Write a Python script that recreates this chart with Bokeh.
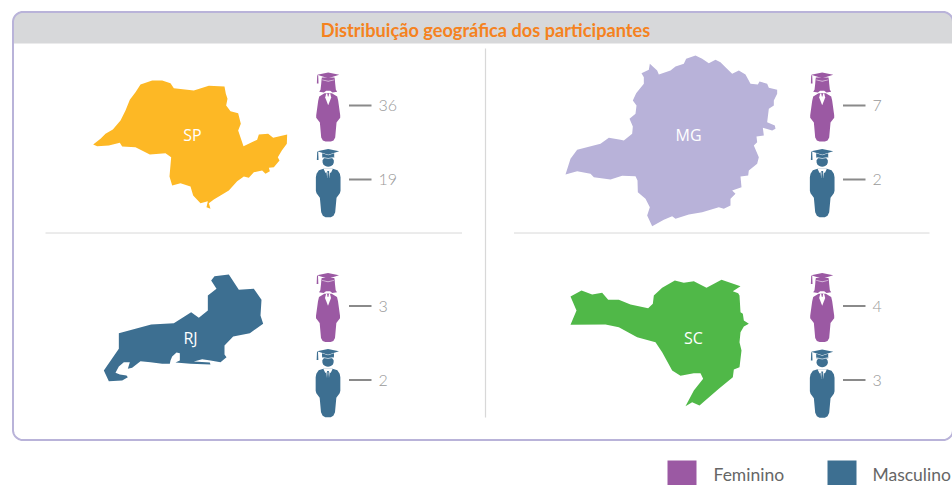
import math
from bokeh.plotting import figure
from bokeh.models import Range1d
from bokeh.embed import file_html
from bokeh.resources import INLINE
from bokeh.core.properties import value

TITLE = "Distribuição geográfica dos participantes"
STATES = ["SP", "RJ", "MG", "SC"]
FEMALE = [36, 3, 7, 4]
MALE = [19, 2, 2, 3]
LEGEND = ["Feminino", "Masculino"]

SP_SHAPE = [(38,282),(60,265),(75,250),(97,237),(120,210),(135,180),(148,148),(165,125),(180,102),(215,90),(245,90),(270,98),(280,113),(340,120),(385,106),(432,108),(436,130),(441,145),(437,165),(450,182),(473,188),(481,220),(473,240),(489,287),(530,268),(535,252),(563,250),(578,262),(620,252),(619,280),(604,300),(592,320),(597,330),(580,350),(565,352),(568,362),(555,370),(545,360),(520,365),(505,382),(490,378),(470,392),(445,420),(425,432),(400,447),(385,458),(390,475),(378,470),(382,452),(360,458),(338,435),(330,408),(300,398),(275,405),(267,378),(272,320),(255,308),(208,312),(165,290),(125,288),(118,277),(85,285),(50,287)]
RJ_SHAPE = [(40,330),(85,265),(85,218),(182,192),(250,188),(302,155),(325,172),(352,150),(352,105),(378,85),(362,60),(372,47),(415,42),(445,88),(490,85),(513,118),(510,165),(518,190),(478,218),(428,228),(402,255),(402,282),(408,290),(390,305),(360,300),(335,296),(310,303),(358,306),(360,312),(300,310),(255,306),(268,300),(268,278),(258,276),(245,288),(240,300),(238,310),(215,310),(180,305),(150,302),(125,322),(112,325),(118,305),(100,305),(85,318),(75,337),(88,342),(108,345),(112,350),(95,360),(55,362)]
MG_SHAPE = [(30,372),(45,325),(65,298),(135,280),(160,262),(195,268),(205,270),(230,250),(232,228),(222,205),(240,190),(243,165),(232,150),(242,128),(265,100),(265,80),(258,68),(280,58),(283,40),(305,60),(310,72),(345,60),(360,48),(385,40),(392,25),(420,15),(440,25),(460,38),(480,28),(495,35),(510,50),(530,70),(550,60),(570,72),(585,100),(607,102),(612,93),(635,100),(640,112),(665,118),(665,130),(655,150),(655,165),(640,175),(635,215),(658,225),(660,235),(650,240),(622,232),(625,255),(603,258),(605,275),(595,285),(610,320),(605,340),(580,360),(578,375),(555,378),(558,410),(530,420),(540,430),(525,445),(525,465),(505,475),(490,470),(440,485),(400,492),(360,505),(350,497),(325,508),(290,527),(275,495),(283,470),(270,445),(247,425),(246,390),(240,377),(200,376),(165,387),(115,380),(105,370),(65,362)]
SC_SHAPE = [(45,78),(78,60),(110,72),(140,67),(158,88),(190,88),(225,102),(278,113),(292,100),(295,75),(320,52),(358,30),(385,37),(415,32),(453,52),(498,28),(555,47),(532,62),(548,68),(552,75),(555,125),(562,130),(565,150),(580,160),(565,168),(555,185),(552,215),(558,240),(552,290),(535,297),(532,320),(490,355),(432,405),(410,395),(390,407),(415,360),(443,325),(435,308),(415,308),(375,316),(350,300),(320,245),(300,215),(245,200),(190,170),(150,162),(45,163),(63,120)]

SHAPES = [SP_SHAPE, RJ_SHAPE, MG_SHAPE, SC_SHAPE]
ORIGINS = [(80, 50), (90, 260), (555, 50), (555, 270)]
STATE_COLORS = ["#FDB825", "#3D6F91", "#B8B2D9", "#50B848"]
LABEL_POS = [(192, 134), (190, 337), (688, 134), (693, 337)]
ICON_X = [327.7, 327.5, 821.7, 821.7]
ICON_TOP = [(72, 148.5), (272.5, 348.5), (72, 148.5), (272.5, 349)]
LINE_LEFT = [348.5, 348.5, 842.5, 842.5]
ROW_Y = [(105, 179), (305.5, 379.5), (105, 179), (305.5, 379.5)]

PURPLE = "#9B59A3"
BLUE = "#3D6F91"
BORDER = "#B9B3D9"
HEADER = "#D7D8DA"
GRID = "#D8D8D8"
NUM = "#999999"
FONT = "Open Sans"

CAP = [(-33,7),(0,0),(33,7),(0,17)]
TASSEL = [(-33,8),(-30,8),(-29,33),(-34,33)]
BODY_F = [(-11,62),(-27,72),(-30,85),(-36,128),(-36,136),(-25,150),(-21,195),(-16,204),(-8,207),(8,207),(16,204),(21,195),(25,150),(36,136),(36,128),(30,85),(27,72),(11,62)]
HAIR_F = [(-19,15),(19,15),(20,22),(21,34),(23,52),(27,58),(13,60),(6,55),(-6,55),(-13,60),(-27,58),(-23,52),(-21,34),(-20,22)]
HAIR_BAND = [(-18,21),(0,25),(18,21),(18,23),(0,28),(-18,23)]
COLLAR_F = [(-6,63),(6,63),(9,75),(0,98),(-9,75)]
TIE_F = [(-3,62),(3,62),(1,72),(-1,72)]
CROWN_M = [(-18,13),(0,19),(18,13),(18,26),(-18,26)]
BAND_M = [(-18,23),(0,27),(18,23),(18,26),(0,30),(-18,26)]
BODY_M = [(-14,59),(-28,64),(-35,74),(-37,85),(-37,125),(-35,133),(-25,146),(-21,190),(-16,200),(-8,205),(8,205),(16,200),(21,190),(25,146),(35,133),(37,125),(37,85),(35,74),(28,64),(14,59)]
COLLAR_M = [(-14,59),(14,59),(8,72),(5,70),(3,87),(-3,87),(-5,70),(-8,72)]
TIE_M = [(-3,66),(3,66),(2,73),(3,86),(0,90),(-3,86),(-2,73)]

p = figure(width=952, height=485, output_backend="svg", toolbar_location=None,
           x_range=Range1d(0, 952), y_range=Range1d(485, 0),
           min_border=0, outline_line_color=None, background_fill_color="white",
           border_fill_color="white")
p.axis.visible = False
p.grid.visible = False


def rounded(x0, y0, x1, y1, r, bottom=True):
    xs, ys = [], []
    corners = [(x0 + r, y0 + r, 180, 270), (x1 - r, y0 + r, 270, 360)]
    if bottom:
        corners += [(x1 - r, y1 - r, 0, 90), (x0 + r, y1 - r, 90, 180)]
    for cx, cy, a0, a1 in corners:
        for k in range(13):
            a = math.radians(a0 + (a1 - a0) * k / 12)
            xs.append(cx + r * math.cos(a))
            ys.append(cy + r * math.sin(a))
    if not bottom:
        xs += [x1, x0]
        ys += [y1, y1]
    return xs, ys


def draw(pts, ox, oy, color, scale=1 / 3):
    p.patch([ox + a * scale for a, _ in pts], [oy + b * scale for _, b in pts],
            fill_color=color, line_color=None)


# card
cx, cy = rounded(12.5, 11.5, 952.5, 439.5, 10)
hx, hy = rounded(12.5, 11.5, 952.5, 43, 10, bottom=False)
p.patch(hx, hy, fill_color=HEADER, line_color=None)
p.patch(cx, cy, fill_color=None, line_color=BORDER, line_width=2)
p.text([485], [29], text=[TITLE], text_color="#F58220", text_font=value("Lato"),
       text_font_size="18.2px", text_font_style="bold", text_align="center", text_baseline="middle")

# dividers
p.line([45, 461.5], [232.5, 232.5], line_color=GRID, line_width=1)
p.line([513.5, 929], [232.5, 232.5], line_color=GRID, line_width=1)
p.line([485, 485], [48, 417], line_color=GRID, line_width=1.2)


def female(x, top):
    draw(CAP, x, top, PURPLE)
    draw(TASSEL, x, top, PURPLE)
    draw(HAIR_F, x, top, PURPLE)
    draw(HAIR_BAND, x, top, "#D9BEDD")
    draw(BODY_F, x, top, PURPLE)
    draw(COLLAR_F, x, top, "white")
    draw(TIE_F, x, top, PURPLE)


def male(x, top):
    draw(CAP, x, top, BLUE)
    draw(TASSEL, x, top, BLUE)
    draw(CROWN_M, x, top, BLUE)
    th = [k * math.pi / 12 for k in range(25)]
    p.patch([x + (17 * math.cos(t)) / 3 for t in th],
            [top + (38 + 15 * math.sin(t)) / 3 for t in th],
            fill_color=BLUE, line_color=None)
    draw(BAND_M, x, top, "#B7CCD9")
    draw(BODY_M, x, top, BLUE)
    draw(COLLAR_M, x, top, "white")
    draw(TIE_M, x, top, BLUE)


for i, name in enumerate(STATES):
    ox, oy = ORIGINS[i]
    draw(SHAPES[i], ox, oy, STATE_COLORS[i])
    lx, ly = LABEL_POS[i]
    p.text([lx], [ly], text=[name], text_color="white", text_font=value(FONT),
           text_font_size="16px", text_align="center", text_baseline="middle")
    female(ICON_X[i], ICON_TOP[i][0])
    male(ICON_X[i], ICON_TOP[i][1])
    for y, v in zip(ROW_Y[i], (FEMALE[i], MALE[i])):
        p.line([LINE_LEFT[i], LINE_LEFT[i] + 22.5], [y, y], line_color="#8A8A8A", line_width=2)
        p.text([LINE_LEFT[i] + 29.5], [y], text=[str(v)], text_color=NUM, text_font=value("Lato Light"),
               text_font_size="16px", text_align="left", text_baseline="middle")

# legend
for x0, tx, color, label in [(667, 713, PURPLE, LEGEND[0]), (827, 872, BLUE, LEGEND[1])]:
    p.quad(left=[x0], right=[x0 + 29], top=[460], bottom=[485], fill_color=color, line_color=None)
    p.text([tx], [473.5], text=[label], text_color="#666666", text_font=value("Lato"),
           text_font_size="17.5px", text_align="left", text_baseline="middle")

open("out.html", "w").write(file_html(p, INLINE))
